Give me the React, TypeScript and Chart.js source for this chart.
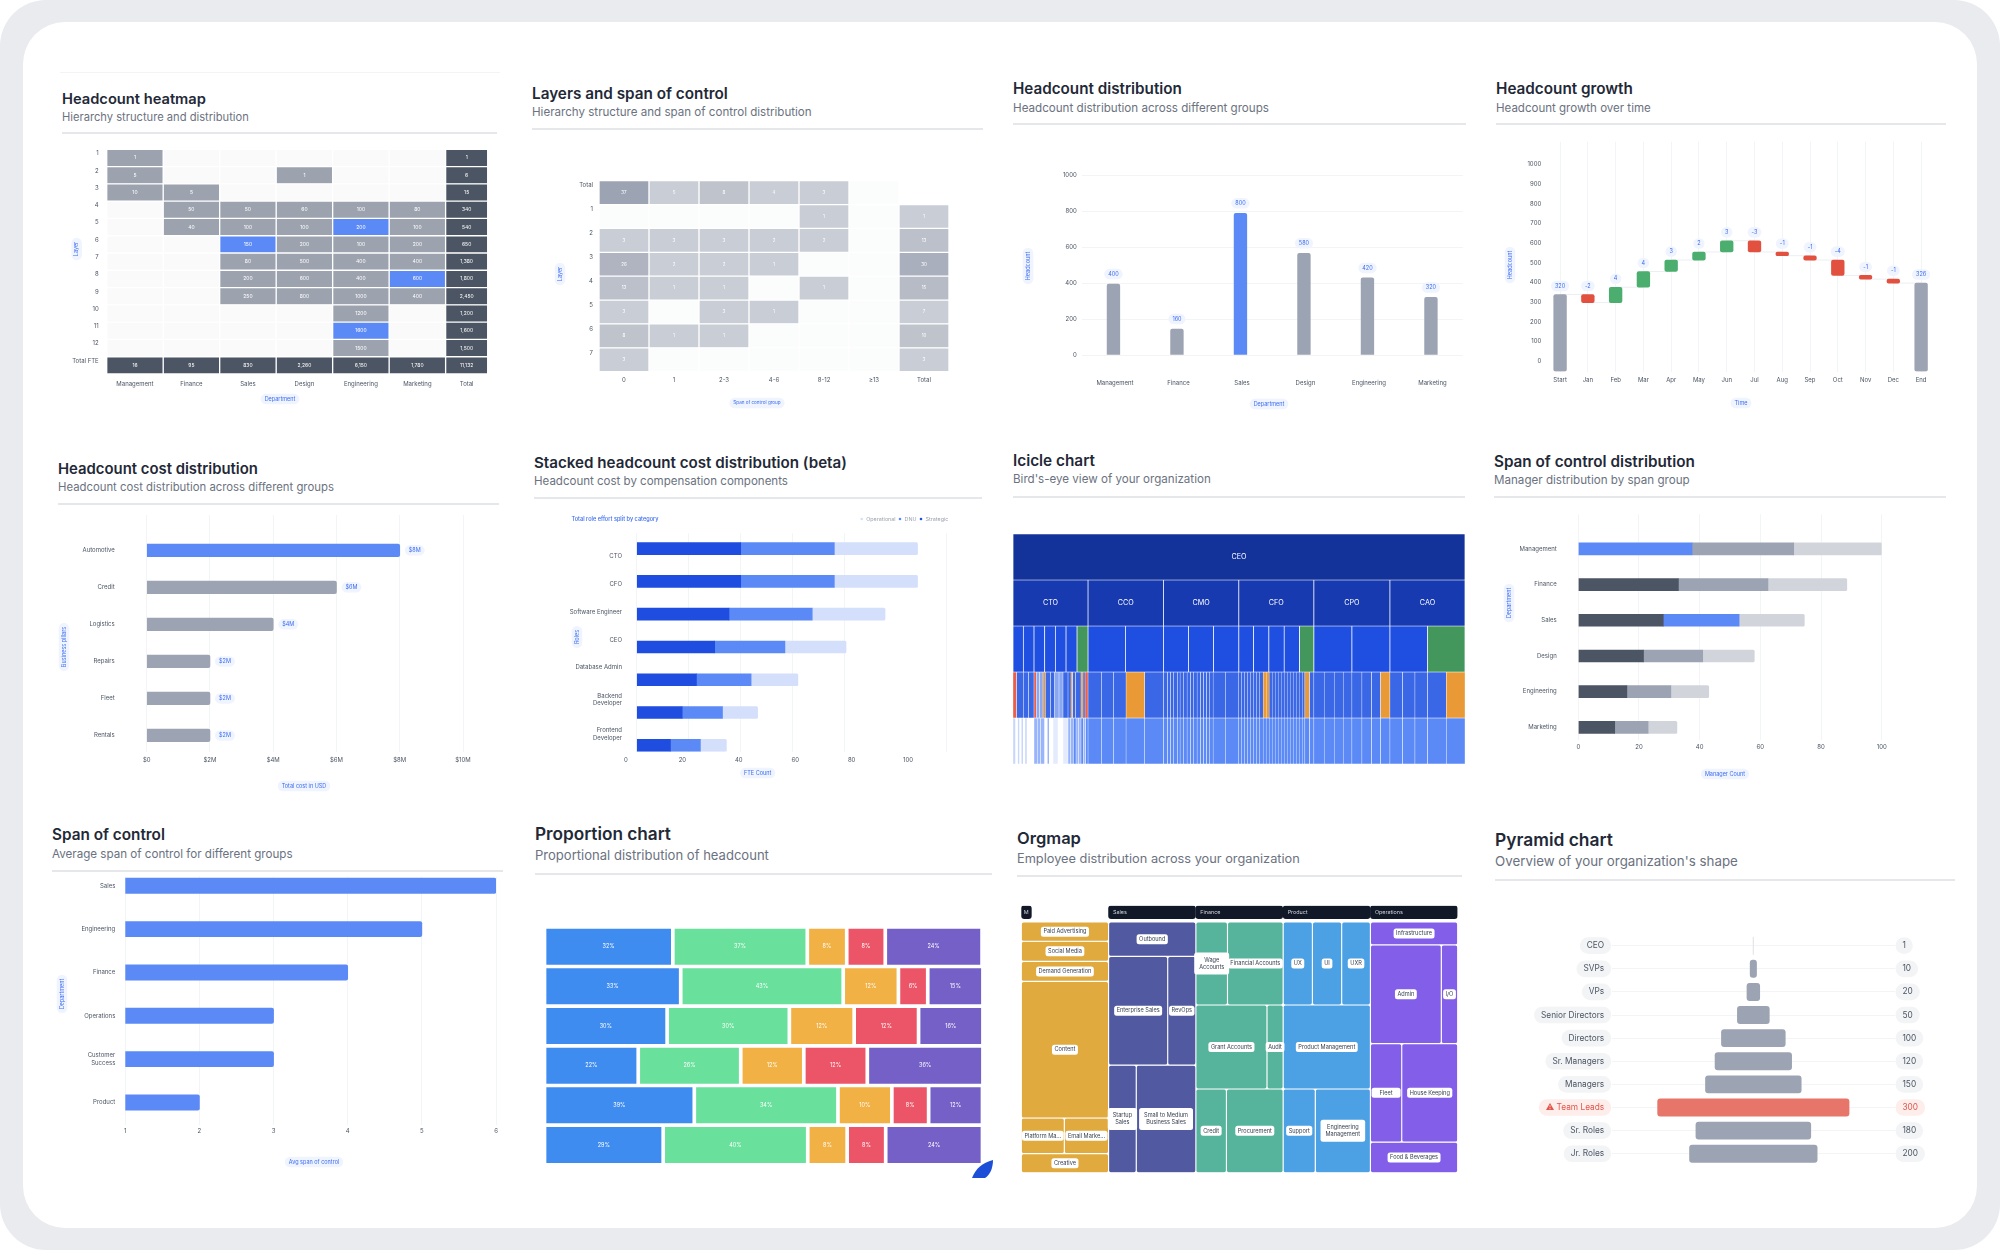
import React, { useEffect, useMemo, useRef } from "react";
import { Chart, registerables } from "chart.js";
Chart.register(...registerables);

const FONT = "Inter";
const GRID = "#f3f4f6";
const TICK = "#4b5563";
const BLUE = "#5b8af7";
const GREY = "#9ca3b2";
const DARK = "#4b5563";
const LIGHT = "#d1d5db";

// ---------- Data ----------
const heatLayers = ["1","2","3","4","5","6","7","8","9","10","11","12","Total FTE"];
const heatDepartments = ["Management","Finance","Sales","Design","Engineering","Marketing","Total"];
const heatManagement = [1,5,10,null,null,null,null,null,null,null,null,null,16];
const heatFinance = [null,null,5,50,40,null,null,null,null,null,null,null,95];
const heatSales = [null,null,null,50,100,150,80,200,250,null,null,null,830];
const heatDesign = [null,1,null,60,100,200,500,600,800,null,null,null,"2,260"];
const heatEngineering = [null,null,null,100,200,100,400,400,1000,1200,1600,1500,"6,150"];
const heatMarketing = [null,null,null,80,100,200,400,600,400,null,null,null,"1,780"];
const heatTotal = [1,6,15,340,540,650,"1,380","1,800","2,450","1,200","1,600","1,500","11,132"];
const heatColumnWidths = [1,1,1,1,1,1,0.745];

const spanLayers = ["Total","1","2","3","4","5","6","7"];
const spanGroups = ["0","1","2-3","4-6","8-12","≥13","Total"];
const span0 = [37,null,3,26,13,3,8,3];
const span1 = [5,null,3,2,1,null,1,null];
const span23 = [8,null,3,2,1,3,1,null];
const span46 = [4,null,2,1,null,1,null,null];
const span812 = [3,1,2,null,1,null,null,null];
const span13 = [null,null,null,null,null,null,null,null];
const spanTotal = [null,1,13,30,15,7,10,3];

const distDepartments = ["Management","Finance","Sales","Design","Engineering","Marketing"];
const distValues = [396,145,790,567,430,321];
const distLabels = ["400","160","800","580","420","320"];

const growthPeriods = ["Start","Jan","Feb","Mar","Apr","May","Jun","Jul","Aug","Sep","Oct","Nov","Dec","End"];
const growthOpen = [-50,339,298,376,456,514,555,612,555,536,514,436,417,-50];
const growthClose = [339,298,376,456,514,555,612,555,536,514,436,417,397,397];
const growthLabels = ["320","-2","4","4","3","2","3","-3","-1","-1","-4","-1","-1","326"];

const costPillars = ["Automotive","Credit","Logistics","Repairs","Fleet","Rentals"];
const costValues = [8,6,4,2,2,2];
const costLabels = ["$8M","$6M","$4M","$2M","$2M","$2M"];

const roleNames = ["CTO","CFO","Software Engineer","CEO","Database Admin",["Backend","Developer"],["Frontend","Developer"]];
const roleStrategic = [40,40,35.5,30,23,17.5,13];
const roleDnu = [36,36,32,27,21,15.5,11.5];
const roleOperational = [32,32,28,23.5,18,13.5,10];
const roleLegend = ["Operational","DNU","Strategic"];

const icicleTop = ["CEO"];
const icicleChiefs = ["CTO","CCO","CMO","CFO","CPO","CAO"];
const icicleLevel0 = [1355];
const icicleLevel1 = [225,226,226,225,228,225];
const icicleLevel2 = [31,32,32,32,32,33,33,112,114,75,75,76,44,46,46,46,43,114,114,113,112];
const icicleLevel2Kinds = "bbbbbbgbbbbbbbbbgbbbg";
const icicleLevel3 = [11,20,16,16,7,10,10,7,16,12,13,12,15,9,5,9,16,6,6,9, 40,37,37,56,56, 12,9,10,12,7,11,10,10,10,10,10,9,9,10,10,38,39, 9,9,9,9,9,9,9,10,9,9,9,9,9,9,9,9,9,9,9,9,9,8,14,13, 31,30,27,26,30,29,27,28, 38,37,38,56,56];
const icicleLevel3Kinds = "rbbbrllobbllbbobbobr" + "bbbob" + "bbbbbbbbbbbbbbbbb" + "bbbbbbbboobbbbbbbbbbbbob" + "bbbbbbbo" + "bbbbo";
const icicleLevel4 = [8,6,6,5,6,5,6,21,10,10,12,8,6,11,15,15,15,8,8,8,8,7,7,7,7, 40,37,37,56,56, 12,9,10,12,7,11,10,10,10,10,10,9,9,10,10,38,39, 9,9,9,9,9,9,9,10,9,9,9,9,9,9,9,9,9,9,9,9,9,8,14,13, 31,30,27,26,30,29,27,28, 38,37,38,56,56];
const icicleLevel4Kinds = "lwlwlwlwmmmwmwewemmnmmnmn";

const socDepartments = ["Management","Finance","Sales","Design","Engineering","Marketing"];
const socFirst = [37.5,33,28,21.5,16,12];
const socSecond = [33.5,29.5,25,19.5,14.5,11];
const socThird = [29,26,21.5,17,12.5,9.5];

const avgDepartments = ["Sales","Engineering","Finance","Operations",["Customer","Success"],"Product"];
const avgValues = [6,5,4,3,3,2];

const propBlue = [29.3,31.1,28,21.4,34.2,27.1];
const propGreen = [30.7,37.1,27.9,23.4,32.8,33];
const propAmber = [9,12.6,14.8,14.4,12.3,9];
const propRed = [8.8,6.7,14.7,14.5,8.4,8.8];
const propPurple = [22.1,12.6,14.7,26.4,12.3,22.1];
const propBlueLabels = ["32%","33%","30%","22%","39%","29%"];
const propGreenLabels = ["37%","43%","30%","26%","34%","40%"];
const propAmberLabels = ["8%","12%","12%","12%","10%","8%"];
const propRedLabels = ["8%","6%","12%","12%","8%","8%"];
const propPurpleLabels = ["24%","15%","16%","36%","12%","24%"];

const orgHeaders = ["M","Sales","Finance","Product","Operations"];
const orgMarketing = [[["Paid Advertising",77]],[["Social Media",80]],[["Demand Generation",80]],[["Content",545]],[["Platform Ma...",70],["Email Marke...",72]],[["Creative",76]]];
const orgSales = [[["Outbound",137]],[["Enterprise Sales",294],["RevOps",140]],[["Startup\nSales",136],["Small to Medium\nBusiness Sales",293]]];
const orgFinance = [[["Wage\nAccounts",120],["Financial Accounts",211]],[["Grant Accounts",273],["Audit",62]],[["Credit",117],["Procurement",217]]];
const orgProduct = [[["UX",111],["UI",111],["UXR",109]],[["Product Management",335]],[["Support",123],["Engineering\nManagement",211]]];
const orgOperations = [[["Infrastructure",91]],[["Admin",320],["I/O",74]],[["Fleet",141],["House Keeping",252]],[["Food & Beverages",122]]];

const pyramidRoles = ["CEO","SVPs","VPs","Senior Directors","Directors","Sr. Managers","Managers","⚠ Team Leads","Sr. Roles","Jr. Roles"];
const pyramidValues = [1,10,20,50,100,120,150,300,180,200];

// ---------- Helpers ----------
const fixY = (w: number) => (s: any) => { s.width = w; s.paddingLeft = s.paddingRight = s.paddingTop = s.paddingBottom = 0; };
const fixX = (h: number) => (s: any) => { s.height = h; s.paddingLeft = s.paddingRight = s.paddingTop = s.paddingBottom = 0; };
const tickFont = (size = 6) => ({ family: FONT, size });
const NO_GRID = { display: false, drawTicks: false };

function baseOptions(c: any, p: any, hasY: boolean, hasX: boolean) {
  return {
    responsive: false, maintainAspectRatio: false, animation: false, events: [],
    plugins: { legend: { display: false }, tooltip: { enabled: false } },
    layout: { padding: {
      left: hasY ? 0 : p.x0 - c.x,
      top: p.y0 - c.y,
      right: c.x + c.w - p.x1,
      bottom: hasX ? 0 : c.y + c.h - p.y1,
    } },
  };
}

function rrect(ctx: any, x: number, y: number, w: number, h: number, r: number) {
  ctx.beginPath();
  ctx.roundRect(x, y, w, h, Math.min(r, h / 2, w / 2));
}

function pill(ctx: any, text: string, cx: number, cy: number, o: any = {}) {
  const size = o.size ?? 5.5, padX = o.padX ?? 4, h = o.h ?? 10.5;
  ctx.font = `${o.weight ?? 400} ${size}px ${FONT}`;
  const lines = text.split("\n");
  const tw = Math.max(...lines.map((l) => ctx.measureText(l).width));
  const w = tw + padX * 2;
  const left = o.anchor === "right" ? cx - w : o.anchor === "left" ? cx : cx - w / 2;
  ctx.fillStyle = o.bg ?? "#eff4ff";
  rrect(ctx, left, cy - h / 2, w, h, o.r ?? h / 2);
  ctx.fill();
  ctx.fillStyle = o.color ?? "#3b6cf0";
  ctx.textAlign = "center";
  ctx.textBaseline = "middle";
  const lh = size * 1.25;
  lines.forEach((l, i) => ctx.fillText(l, left + w / 2, cy + (i - (lines.length - 1) / 2) * lh));
}

const axisPills = (c: any, items: any[]) => ({
  id: "axisPills",
  afterDraw(chart: any) {
    const ctx = chart.ctx;
    for (const it of items) {
      ctx.save();
      ctx.translate(it.x - c.x, it.y - c.y);
      if (it.rot) ctx.rotate(-Math.PI / 2);
      pill(ctx, it.text, 0, 0, it.opts);
      ctx.restore();
    }
  },
});

const centerText = (size: number, color = "#fff") => ({
  id: "centerText",
  afterDatasetsDraw(chart: any) {
    const ctx = chart.ctx;
    ctx.save();
    ctx.font = `400 ${size}px ${FONT}`;
    ctx.fillStyle = color;
    ctx.textAlign = "center";
    ctx.textBaseline = "middle";
    chart.data.datasets.forEach((ds: any, di: number) => {
      if (!ds.cellText) return;
      chart.getDatasetMeta(di).data.forEach((el: any, i: number) => {
        const t = ds.cellText[i];
        if (t === null || t === undefined) return;
        ctx.fillText(String(t), (el.x + el.base) / 2, el.y);
      });
    });
    ctx.restore();
  },
});

const hScales = (c: any, p: any, o: any) => ({
  x: {
    type: "linear", min: o.xMin, max: o.xMax, stacked: !!o.stacked,
    grid: { color: GRID, drawTicks: false }, border: { display: false },
    ticks: { stepSize: o.step, callback: o.fmt ?? ((v: any) => String(v)), font: tickFont(), color: TICK, padding: o.xPad, maxRotation: 0, autoSkip: false },
    afterFit: fixX(c.y + c.h - p.y1),
  },
  y: {
    type: "linear", reverse: true, min: o.yMin, max: o.yMax, offset: false, stacked: !!o.stacked,
    grid: { ...NO_GRID, offset: false }, border: { display: false },
    afterBuildTicks: (s: any) => { s.ticks = (o.at ?? o.labels.map((_: any, i: number) => i)).map((value: number) => ({ value })); },
    ticks: { callback: (_: any, i: number) => o.labels[i], font: tickFont(), color: TICK, padding: o.yPad, maxRotation: 0, autoSkip: false },
    afterFit: fixY(p.x0 - c.x),
  },
});

const points = (vals: any[]) => vals.map((x, y) => ({ x, y }));

// ---------- Builders ----------
function heatChart(cv: any, c: any, p: any, o: any) {
  const total = o.widths.reduce((a: number, b: number) => a + b, 0);
  const centers: number[] = [];
  o.widths.reduce((a: number, b: number) => { centers.push(a + b / 2); return a + b; }, 0);
  return new Chart(cv, {
    type: "bar",
    data: {
      labels: o.rows,
      datasets: o.columns.map((col: any[], ci: number) => ({
        data: col.map(() => o.widths[ci]),
        cellText: col,
        backgroundColor: col.map((v, ri) => o.color(v, ri, ci)),
        borderColor: "#fff", borderWidth: 1, borderSkipped: false, barPercentage: 1, categoryPercentage: 1,
      })),
    },
    plugins: [centerText(o.text ?? 5), axisPills(c, o.pills)],
    options: {
      ...baseOptions(c, p, true, true), indexAxis: "y",
      scales: {
        x: { type: "linear", min: 0, max: total, stacked: true, grid: NO_GRID, border: { display: false },
          afterBuildTicks: (s: any) => { s.ticks = centers.map((value) => ({ value })); },
          ticks: { callback: (_: any, i: number) => o.cols[i], font: tickFont(), color: TICK, padding: o.xPad, maxRotation: 0, autoSkip: false },
          afterFit: fixX(c.y + c.h - p.y1) },
        y: { type: "category", stacked: true, grid: NO_GRID, border: { display: false },
          ticks: { font: tickFont(), color: TICK, padding: o.yPad, labelOffset: o.yOff, autoSkip: false },
          afterFit: fixY(p.x0 - c.x) },
      },
    },
  } as any);
}

const blueCells = ["4-4","5-2","7-5","10-4"];
function buildHeatmap(cv: any, c: any, p: any) {
  return heatChart(cv, c, p, {
    rows: heatLayers, cols: heatDepartments, widths: heatColumnWidths, xPad: 7, yPad: 8, yOff: -4.5,
    columns: [heatManagement, heatFinance, heatSales, heatDesign, heatEngineering, heatMarketing, heatTotal],
    color: (v: any, r: number, col: number) => {
      if (col === 6 || r === 12) return DARK;
      if (v === null) return "#fafafa";
      return blueCells.includes(`${r}-${col}`) ? BLUE : "#9ca3af";
    },
    pills: [{ text: "Layer", x: 76.7, y: 249, rot: true }, { text: "Department", x: 280, y: 399 }],
  });
}

function buildLayers(cv: any, c: any, p: any) {
  const shade = (v: any) => v === null ? "#fbfcfc" : v >= 37 ? "#9ca3b3" : v >= 30 ? "#a9afbc" : v >= 26 ? "#afb4c0" : v >= 15 ? "#b7bbc5" : v >= 13 ? "#bcc0ca" : v >= 8 ? "#bfc3cc" : "#c9cdd5";
  return heatChart(cv, c, p, {
    rows: spanLayers, cols: spanGroups, widths: [1,1,1,1,1,1,1], xPad: 5, yPad: 6, yOff: -7, text: 4.5,
    columns: [span0, span1, span23, span46, span812, span13, spanTotal],
    color: (v: any, r: number, col: number) => (r === 0 && col === 6 ? "#ffffff" : shade(v)),
    pills: [{ text: "Layer", x: 560, y: 274, rot: true }, { text: "Span of control group", x: 757, y: 403, opts: { size: 4.6 } }],
  });
}

function buildDistribution(cv: any, c: any, p: any) {
  return new Chart(cv, {
    type: "bar",
    data: { labels: distDepartments, datasets: [{ data: distValues, backgroundColor: distValues.map((_, i) => i === 2 ? BLUE : GREY), barThickness: 12.7, borderRadius: 2, borderSkipped: "start" }] },
    plugins: [axisPills(c, [{ text: "Headcount", x: 1028, y: 266, rot: true }, { text: "Department", x: 1269, y: 404 }]), {
      id: "valuePills",
      afterDatasetsDraw(chart: any) {
        chart.getDatasetMeta(0).data.forEach((el: any, i: number) => pill(chart.ctx, distLabels[i], el.x, el.y - 10, { h: 10.5 }));
      },
    }],
    options: {
      ...baseOptions(c, p, true, true),
      scales: {
        x: { grid: NO_GRID, border: { display: false }, ticks: { font: tickFont(), color: TICK, padding: 25, labelOffset: 1.5, maxRotation: 0, autoSkip: false }, afterFit: fixX(c.y + c.h - p.y1) },
        y: { min: 0, max: 1000, grid: { color: GRID, drawTicks: false }, border: { display: false }, ticks: { stepSize: 200, callback: (v: any) => String(v), font: tickFont(), color: TICK, padding: 5 }, afterFit: fixY(p.x0 - c.x) },
      },
    },
  } as any);
}

function buildGrowth(cv: any, c: any, p: any) {
  const color = (i: number) => (i === 0 || i === 13 ? GREY : growthClose[i] >= growthOpen[i] ? "#4cae6e" : "#e2513f");
  return new Chart(cv, {
    type: "bar",
    data: { labels: growthPeriods, datasets: [{
      data: growthOpen.map((o, i) => [Math.min(o, growthClose[i]), Math.max(o, growthClose[i])]),
      backgroundColor: growthOpen.map((_, i) => color(i)), barThickness: 12.7, borderRadius: 2, borderSkipped: false,
    }] },
    plugins: [axisPills(c, [{ text: "Headcount", x: 1510, y: 265, rot: true }, { text: "Time", x: 1741, y: 403 }]), {
      id: "waterfall",
      beforeDatasetsDraw(chart: any) {
        const ctx = chart.ctx, y = chart.scales.y, els = chart.getDatasetMeta(0).data;
        ctx.save();
        ctx.strokeStyle = "#eceef1";
        ctx.lineWidth = 1;
        els.slice(0, -1).forEach((el: any, i: number) => {
          const py = y.getPixelForValue(growthClose[i]);
          ctx.beginPath();
          ctx.moveTo(el.x, py);
          ctx.lineTo(els[i + 1].x, py);
          ctx.stroke();
        });
        ctx.restore();
      },
      afterDatasetsDraw(chart: any) {
        chart.getDatasetMeta(0).data.forEach((el: any, i: number) => pill(chart.ctx, growthLabels[i], el.x, Math.min(el.y, el.base) - 8.5, { h: 10.5 }));
      },
    }],
    options: {
      ...baseOptions(c, p, true, true),
      scales: {
        x: { grid: { color: GRID, offset: false, drawTicks: false }, border: { display: false }, ticks: { font: tickFont(), color: TICK, padding: 5, maxRotation: 0, autoSkip: false }, afterFit: fixX(c.y + c.h - p.y1) },
        y: { min: -53, max: 1115, grid: NO_GRID, border: { display: false },
          afterBuildTicks: (s: any) => { s.ticks = [0,100,200,300,400,500,600,700,800,900,1000].map((value) => ({ value })); },
          ticks: { callback: (v: any) => String(v), font: tickFont(), color: TICK, padding: 5, autoSkip: false }, afterFit: fixY(p.x0 - c.x) },
      },
    },
  } as any);
}

function buildCost(cv: any, c: any, p: any) {
  return new Chart(cv, {
    type: "bar",
    data: { datasets: [{ data: points(costValues), backgroundColor: costValues.map((_, i) => i === 0 ? BLUE : GREY), barThickness: 12.7, borderRadius: 2 }] },
    plugins: [axisPills(c, [{ text: "Business pillars", x: 64, y: 647, rot: true }, { text: "Total cost in USD", x: 304, y: 786 }]), {
      id: "valuePills",
      afterDatasetsDraw(chart: any) {
        chart.getDatasetMeta(0).data.forEach((el: any, i: number) => pill(chart.ctx, costLabels[i], el.x + 15, el.y, { h: 10.5 }));
      },
    }],
    options: {
      ...baseOptions(c, p, true, true), indexAxis: "y",
      scales: hScales(c, p, { labels: costPillars, xMin: 0, xMax: 10, step: 2, fmt: (v: any) => v === 0 ? "$0" : `$${v}M`, yMin: -0.955, yMax: 5.44, yPad: 32, xPad: 5 }),
    },
  } as any);
}

function buildStacked(cv: any, c: any, p: any) {
  const colors = ["#1f4de0", BLUE, "#d4dffb"];
  const scales: any = hScales(c, p, { labels: roleNames, at: [0.24,1.08,1.93,2.79,3.63,4.6,5.66], stacked: true, xMin: 0, xMax: 119.2, step: 20, yMin: -0.468, yMax: 6.195, yPad: 14.7, xPad: 5 });
  scales.x.ticks = { display: false, stepSize: 20 };
  scales.x.afterFit = fixX(0);
  scales.x2 = {
    type: "linear", position: "bottom", min: 3.78, max: 113.7, grid: NO_GRID, border: { display: false },
    afterBuildTicks: (s: any) => { s.ticks = [0,20,40,60,80,100].map((value) => ({ value })); },
    ticks: { font: tickFont(), color: TICK, padding: 5, maxRotation: 0, autoSkip: false },
    afterFit: fixX(c.y + c.h - p.y1),
  };
  return new Chart(cv, {
    type: "bar",
    data: { datasets: [roleStrategic, roleDnu, roleOperational].map((v, i) => ({ label: roleLegend[2 - i], data: points(v), backgroundColor: colors[i], barThickness: 12, borderRadius: 1.5 })) },
    plugins: [axisPills(c, [{ text: "Roles", x: 577, y: 637, rot: true }, { text: "FTE Count", x: 757.7, y: 773 }]), {
      id: "topNote",
      afterDraw(chart: any) {
        const ctx = chart.ctx;
        ctx.save();
        ctx.textBaseline = "middle";
        ctx.font = `500 5.6px ${FONT}`;
        ctx.fillStyle = "#3b6cf0";
        ctx.textAlign = "center";
        ctx.fillText("Total role effort split by category", 615 - c.x, 519 - c.y);
        ctx.font = `400 5.4px ${FONT}`;
        ctx.textAlign = "left";
        [[861.7, colors[2]], [900, colors[1]], [921, colors[0]]].forEach(([x, col]: any, i) => {
          ctx.fillStyle = col;
          ctx.beginPath();
          ctx.arc(x - c.x, 519 - c.y, 1.3, 0, Math.PI * 2);
          ctx.fill();
          ctx.fillStyle = "#9ca3af";
          ctx.fillText(roleLegend[i], x - c.x + 4.5, 519 - c.y);
        });
        ctx.restore();
      },
    }],
    options: { ...baseOptions(c, p, true, true), indexAxis: "y", scales },
  } as any);
}

function buildIcicle(cv: any, c: any, p: any) {
  const palette: any = { b: "#1f4fe0", g: "#44975c", r: "#e8604c", o: "#e99a37", l: "#c9d7fc", w: "#ffffff", e: "#e4ebfd", m: "#98b4fa", n: BLUE };
  const level = (widths: number[], y: number, color: (i: number) => string, text: any[], bw: number) => {
    let x = 0;
    return {
      data: widths.map((w) => { const d = { x: [x, x + w], y }; x += w; return d; }),
      backgroundColor: widths.map((_, i) => color(i)),
      borderColor: "#fff", borderWidth: bw, borderSkipped: false, barThickness: 46, grouped: false, cellText: text,
    };
  };
  return new Chart(cv, {
    type: "bar",
    data: { datasets: [
      level(icicleLevel0, 0, () => "#14339a", icicleTop, 0.7),
      level(icicleLevel1, 1, () => "#173ab0", icicleChiefs, 0.7),
      level(icicleLevel2, 2, (i) => palette[icicleLevel2Kinds[i]], [], 0.7),
      level(icicleLevel3, 3, (i) => { const k = icicleLevel3Kinds[i] ?? "b"; return k === "b" ? "#3a67e6" : k === "l" ? "#8aa7f2" : palette[k]; }, [], 0.5),
      level(icicleLevel4, 4, (i) => palette[icicleLevel4Kinds[i] ?? "n"], [], 0.5),
    ] },
    plugins: [centerText(7.2)],
    options: {
      ...baseOptions(c, p, false, false), indexAxis: "y",
      scales: {
        x: { type: "linear", min: 0, max: 1355, display: false },
        y: { type: "linear", reverse: true, min: -0.5, max: 4.5, offset: false, display: false },
      },
    },
  } as any);
}

function buildSoc(cv: any, c: any, p: any) {
  const first = socFirst.map((_, i) => i === 0 ? BLUE : DARK);
  const second = socSecond.map((_, i) => i === 2 ? BLUE : GREY);
  return new Chart(cv, {
    type: "bar",
    data: { datasets: [
      { data: points(socFirst), backgroundColor: first, barThickness: 12, borderRadius: 1.5 },
      { data: points(socSecond), backgroundColor: second, barThickness: 12, borderRadius: 1.5 },
      { data: points(socThird), backgroundColor: LIGHT, barThickness: 12, borderRadius: 1.5 },
    ] },
    plugins: [axisPills(c, [{ text: "Department", x: 1509, y: 603, rot: true }, { text: "Manager Count", x: 1725, y: 774 }])],
    options: {
      ...baseOptions(c, p, true, true), indexAxis: "y",
      scales: hScales(c, p, { labels: socDepartments, stacked: true, xMin: 0, xMax: 100, step: 20, yMin: -0.97, yMax: 5.355, yPad: 21.6, xPad: 4 }),
    },
  } as any);
}

function buildAvg(cv: any, c: any, p: any) {
  return new Chart(cv, {
    type: "bar",
    data: { datasets: [{ data: points(avgValues), backgroundColor: BLUE, barThickness: 15.3, borderRadius: 2 }] },
    plugins: [axisPills(c, [{ text: "Department", x: 62, y: 994, rot: true }, { text: "Avg span of control", x: 314, y: 1162 }])],
    options: {
      ...baseOptions(c, p, true, true), indexAxis: "y",
      scales: hScales(c, p, { labels: avgDepartments, xMin: 1, xMax: 6, step: 1, yMin: -0.21, yMax: 5.52, yPad: 10, xPad: 3 }),
    },
  } as any);
}

function buildProportion(cv: any, c: any, p: any) {
  const rows = [propBlue, propGreen, propAmber, propRed, propPurple];
  const text = [propBlueLabels, propGreenLabels, propAmberLabels, propRedLabels, propPurpleLabels];
  const colors = ["#3f8cf0", "#69e09c", "#f2b144", "#ec5568", "#7460c7"];
  return new Chart(cv, {
    type: "bar",
    data: { labels: propBlue.map((_, i) => String(i)), datasets: rows.map((data, i) => ({
      data, cellText: text[i], backgroundColor: colors[i], borderColor: "#fff", borderWidth: 2.17, borderSkipped: false, borderRadius: 1.5, barPercentage: 1, categoryPercentage: 1,
    })) },
    plugins: [centerText(5.5)],
    options: {
      ...baseOptions(c, p, false, false), indexAxis: "y",
      scales: { x: { type: "linear", min: 0, max: 100, stacked: true, display: false }, y: { stacked: true, display: false } },
    },
  } as any);
}

function buildOrgmap(cv: any, c: any, p: any) {
  const columns = [orgMarketing, orgSales, orgFinance, orgProduct, orgOperations];
  const colors = ["#e0aa3e", "#515aa0", "#55b49b", "#4ca0e4", "#835ee8"];
  const plotH = p.y1 - p.y0;
  const yUnits = 1065;
  const datasets: any[] = [];
  columns.forEach((rows: any[], ci) => {
    const total = rows.flat().reduce((a: number, cell: any) => a + cell[1], 0);
    let y = 0;
    rows.forEach((row: any[]) => {
      const rowTotal = row.reduce((a, cell) => a + cell[1], 0);
      const h = (rowTotal / total) * 1000;
      let x = ci;
      row.forEach((cell) => {
        const w = cell[1] / rowTotal;
        datasets.push({
          data: [{ x: [x, x + w], y: y + h / 2 }], name: cell[0], backgroundColor: colors[ci],
          borderColor: "#fff", borderWidth: 0.9, borderRadius: 2.5, borderSkipped: false, grouped: false,
          barThickness: (h / yUnits) * plotH,
        });
        x += w;
      });
      y += h;
    });
    datasets.push({
      data: [{ x: [ci, ci === 0 ? ci + 0.115 : ci + 0.995], y: -39 }], header: orgHeaders[ci], backgroundColor: "#111827",
      borderRadius: 3, borderSkipped: false, grouped: false, barThickness: 13,
    });
  });
  return new Chart(cv, {
    type: "bar",
    data: { datasets },
    plugins: [{
      id: "orgLabels",
      afterDatasetsDraw(chart: any) {
        const ctx = chart.ctx;
        chart.data.datasets.forEach((ds: any, di: number) => {
          const el = chart.getDatasetMeta(di).data[0];
          if (ds.name) {
            const lines = ds.name.split("\n").length;
            pill(ctx, ds.name, (el.x + el.base) / 2, el.y, { size: 5.6, bg: "#fff", color: "#374151", padX: ds.name === "Fleet" ? 8 : lines > 1 ? 5 : 2.5, h: lines > 1 ? 22 : 10, r: 2.5 });
          } else {
            ctx.save();
            ctx.font = `400 5.4px ${FONT}`;
            ctx.fillStyle = "#d1d5db";
            ctx.textAlign = "left";
            ctx.textBaseline = "middle";
            ctx.fillText(ds.header, el.base + (ds.header.length === 1 ? 2.5 : 4.5), el.y);
            ctx.restore();
          }
        });
      },
    }],
    options: {
      ...baseOptions(c, p, false, false), indexAxis: "y",
      scales: {
        x: { type: "linear", min: 0, max: 5, display: false },
        y: { type: "linear", reverse: true, min: -65, max: 1000, offset: false, display: false },
      },
    },
  } as any);
}

function buildPyramid(cv: any, c: any, p: any) {
  return new Chart(cv, {
    type: "bar",
    data: { labels: pyramidRoles, datasets: [{
      data: pyramidValues.map((v) => [-v / 2, v / 2]),
      backgroundColor: pyramidValues.map((v, i) => i === 0 ? "#e5e7eb" : i === 7 ? "#e8756a" : GREY),
      barThickness: 17.3, borderRadius: 3, borderSkipped: false,
    }] },
    plugins: [{
      id: "pyramidPills",
      afterDraw(chart: any) {
        const ctx = chart.ctx, area = chart.chartArea;
        chart.getDatasetMeta(0).data.forEach((el: any, i: number) => {
          const hot = i === 7;
          const o = { size: 8.3, h: 16.7, padX: 7, bg: hot ? "#fdeeec" : "#f3f4f6", color: hot ? "#e2554b" : "#4b5563" };
          pill(ctx, pyramidRoles[i], area.left - 0.5, el.y, { ...o, anchor: "right" });
          pill(ctx, String(pyramidValues[i]), area.right + 0.5, el.y, { ...o, anchor: "left" });
        });
      },
    }],
    options: {
      ...baseOptions(c, p, true, false), indexAxis: "y",
      scales: {
        x: { type: "linear", min: -222, max: 222, display: false },
        y: { grid: { offset: false, color: GRID, drawTicks: false }, border: { display: false }, ticks: { display: false }, afterFit: fixY(p.x0 - c.x) },
      },
    },
  } as any);
}

// ---------- Panels ----------
const PANELS: any[] = [
  { title: "Headcount heatmap", sub: "Hierarchy structure and distribution", tx: 62, ty: 98, sy: 117, ry: 132, rx1: 497, tw: 144, sw: 187,
    c: { x: 60, y: 136, w: 440, h: 280 }, p: { x0: 106.7, x1: 487.7, y0: 149.3, y1: 374 }, build: buildHeatmap },
  { title: "Layers and span of control", sub: "Hierarchy structure and span of control distribution", tx: 532, ty: 93, sy: 112, ry: 128, rx1: 983, tw: 196, sw: 280,
    c: { x: 535, y: 135, w: 450, h: 285 }, p: { x0: 599, x1: 949, y0: 180.7, y1: 371.7 }, build: buildLayers },
  { title: "Headcount distribution", sub: "Headcount distribution across different groups", tx: 1013, ty: 88, sy: 108, ry: 123, rx1: 1466, tw: 169, sw: 256,
    c: { x: 1015, y: 130, w: 455, h: 290 }, p: { x0: 1081.7, x1: 1462.7, y0: 175.7, y1: 355 }, build: buildDistribution },
  { title: "Headcount growth", sub: "Headcount growth over time", tx: 1496, ty: 88, sy: 108, ry: 123, rx1: 1946, tw: 137, sw: 155,
    c: { x: 1497, y: 130, w: 450, h: 290 }, p: { x0: 1546.2, x1: 1935, y0: 141.7, y1: 371.7 }, build: buildGrowth },
  { title: "Headcount cost distribution", sub: "Headcount cost distribution across different groups", tx: 58, ty: 468, sy: 487, ry: 503, rx1: 499, tw: 200, sw: 276,
    c: { x: 55, y: 508, w: 445, h: 290 }, p: { x0: 146.7, x1: 463, y0: 515, y1: 751.7 }, build: buildCost },
  { title: "Stacked headcount cost distribution (beta)", sub: "Headcount cost by compensation components", tx: 534, ty: 462, sy: 481, ry: 497, rx1: 982, tw: 313, sw: 254,
    c: { x: 535, y: 503, w: 445, h: 290 }, p: { x0: 636.67, x1: 946.67, y0: 533.3, y1: 751.7 }, build: buildStacked },
  { title: "Icicle chart", sub: "Bird's-eye view of your organization", tx: 1013, ty: 460, sy: 479, ry: 496, rx1: 1465, tw: 82, sw: 198,
    c: { x: 1005, y: 525, w: 470, h: 250 }, p: { x0: 1013, x1: 1465, y0: 534, y1: 764 }, build: buildIcicle },
  { title: "Span of control distribution", sub: "Manager distribution by span group", tx: 1494, ty: 461, sy: 480, ry: 496, rx1: 1946, tw: 201, sw: 196,
    c: { x: 1495, y: 503, w: 455, h: 290 }, p: { x0: 1578.3, x1: 1881.7, y0: 514.3, y1: 740 }, build: buildSoc },
  { title: "Span of control", sub: "Average span of control for different groups", tx: 52, ty: 834, sy: 854, ry: 870, rx1: 503, tw: 113, sw: 241,
    c: { x: 52, y: 874, w: 455, h: 310 }, p: { x0: 125.3, x1: 496, y0: 876.7, y1: 1125 }, build: buildAvg },
  { title: "Proportion chart", sub: "Proportional distribution of headcount", tx: 535, ty: 833, sy: 855, ry: 873, rx1: 992, tw: 136, sw: 234,
    c: { x: 535, y: 905, w: 462, h: 280 }, p: { x0: 544.5, x1: 982.5, y0: 926.8, y1: 1164.8 }, build: buildProportion },
  { title: "Orgmap", sub: "Employee distribution across your organization", tx: 1017, ty: 837, sy: 858, ry: 875, rx1: 1462, tw: 64, sw: 283,
    c: { x: 1015, y: 895, w: 450, h: 290 }, p: { x0: 1021.3, x1: 1457.7, y0: 905.7, y1: 1172.7 }, build: buildOrgmap },
  { title: "Pyramid chart", sub: "Overview of your organization's shape", tx: 1495, ty: 839, sy: 861, ry: 879, rx1: 1955, tw: 118, sw: 243,
    c: { x: 1495, y: 925, w: 460, h: 250 }, p: { x0: 1611.7, x1: 1895, y0: 934.1, y1: 1165.3 }, build: buildPyramid },
];

function fitSize(text: string, weight: number, target: number) {
  const ctx = document.createElement("canvas").getContext("2d") as any;
  ctx.font = `${weight} 100px ${FONT}`;
  return (100 * target) / ctx.measureText(text).width;
}

const abs = (x: number, y: number, extra: any = {}) => ({ position: "absolute", left: x, top: y, ...extra });

export default function App() {
  const refs = useRef<any[]>([]);
  const sizes = useMemo(() => PANELS.map((p) => [fitSize(p.title, 600, p.tw), fitSize(p.sub, 400, p.sw)]), []);
  useEffect(() => {
    const charts = PANELS.map((p, i) => p.build(refs.current[i], p.c, p.p));
    return () => charts.forEach((c) => c.destroy());
  }, []);
  return (
    <div style={{ position: "absolute", left: 0, top: 0, width: 2000, height: 1250, overflow: "hidden", background: "#fff", fontFamily: FONT, filter: "blur(0.7px)" } as any}>
      <div style={abs(0, 0, { width: 2000, height: 1250, background: "#e9ebef", borderRadius: 46 }) as any} />
      <div style={abs(23, 22, { width: 1954, height: 1206, background: "#fff", borderRadius: 42 }) as any} />
      <div style={abs(60, 72, { width: 440, height: 1, background: "#f3f4f6" }) as any} />
      {PANELS.map((p, i) => (
        <React.Fragment key={p.title}>
          <div style={abs(p.tx, p.ty + 1, { transform: "translateY(-50%)", fontSize: sizes[i][0], fontWeight: 600, color: "#1f2937", lineHeight: 1, whiteSpace: "nowrap" }) as any}>{p.title}</div>
          <div style={abs(p.tx, p.sy + 1, { transform: "translateY(-50%)", fontSize: sizes[i][1], fontWeight: 400, color: "#6b7280", lineHeight: 1, whiteSpace: "nowrap" }) as any}>{p.sub}</div>
          <div style={abs(p.tx, p.ry, { width: p.rx1 - p.tx, height: 1.5, background: "#e5e7eb" }) as any} />
          <canvas ref={(el) => { refs.current[i] = el; }} width={p.c.w} height={p.c.h} style={abs(p.c.x, p.c.y, { width: p.c.w, height: p.c.h, display: "block" }) as any} />
        </React.Fragment>
      ))}
      <svg width={30} height={30} style={abs(968, 1154) as any}>
        <path d="M4 24 C8 14 14 9 25 6 C25 14 22 21 17 24 Z" fill="#1d4ed8" />
      </svg>
    </div>
  );
}
